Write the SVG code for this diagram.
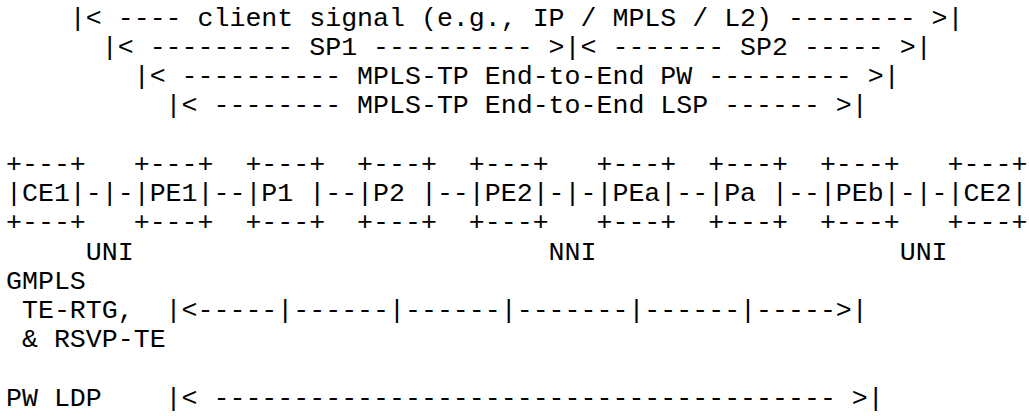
<svg xmlns="http://www.w3.org/2000/svg" width="1029" height="416" viewBox="0 0 1029 416">
<style>
text{font-family:"Liberation Mono","Courier New",monospace;font-size:26.6px;fill:#000;white-space:pre}
</style>
<rect x="0" y="0" width="1029" height="416" fill="#fff"/>
<g id="spans">
<text x="6" y="25.5" xml:space="preserve">    |&lt; ---- client signal (e.g., IP / MPLS / L2) -------- &gt;|</text>
<text x="6" y="54.75" xml:space="preserve">      |&lt; --------- SP1 ---------- &gt;|&lt; ------- SP2 ----- &gt;|</text>
<text x="6" y="84" xml:space="preserve">        |&lt; ---------- MPLS-TP End-to-End PW --------- &gt;|</text>
<text x="6" y="113.25" xml:space="preserve">          |&lt; -------- MPLS-TP End-to-End LSP ------ &gt;|</text>
</g>
<g id="nodes">
<text x="6" y="171.75" xml:space="preserve">+---+   +---+  +---+  +---+  +---+   +---+  +---+  +---+   +---+</text>
<text x="6" y="201" xml:space="preserve">|CE1|-|-|PE1|--|P1 |--|P2 |--|PE2|-|-|PEa|--|Pa |--|PEb|-|-|CE2|</text>
<text x="6" y="230.25" xml:space="preserve">+---+   +---+  +---+  +---+  +---+   +---+  +---+  +---+   +---+</text>
</g>
<g id="interfaces">
<text x="6" y="259.5" xml:space="preserve">     UNI                          NNI                   UNI</text>
</g>
<g id="connectors">
<text x="6" y="288.75" xml:space="preserve">GMPLS</text>
<text x="6" y="318" xml:space="preserve"> TE-RTG,  |&lt;-----|------|------|-------|------|-----&gt;|</text>
<text x="6" y="347.25" xml:space="preserve"> &amp; RSVP-TE</text>
<text x="6" y="405.75" xml:space="preserve">PW LDP    |&lt; --------------------------------------- &gt;|</text>
</g>
</svg>
